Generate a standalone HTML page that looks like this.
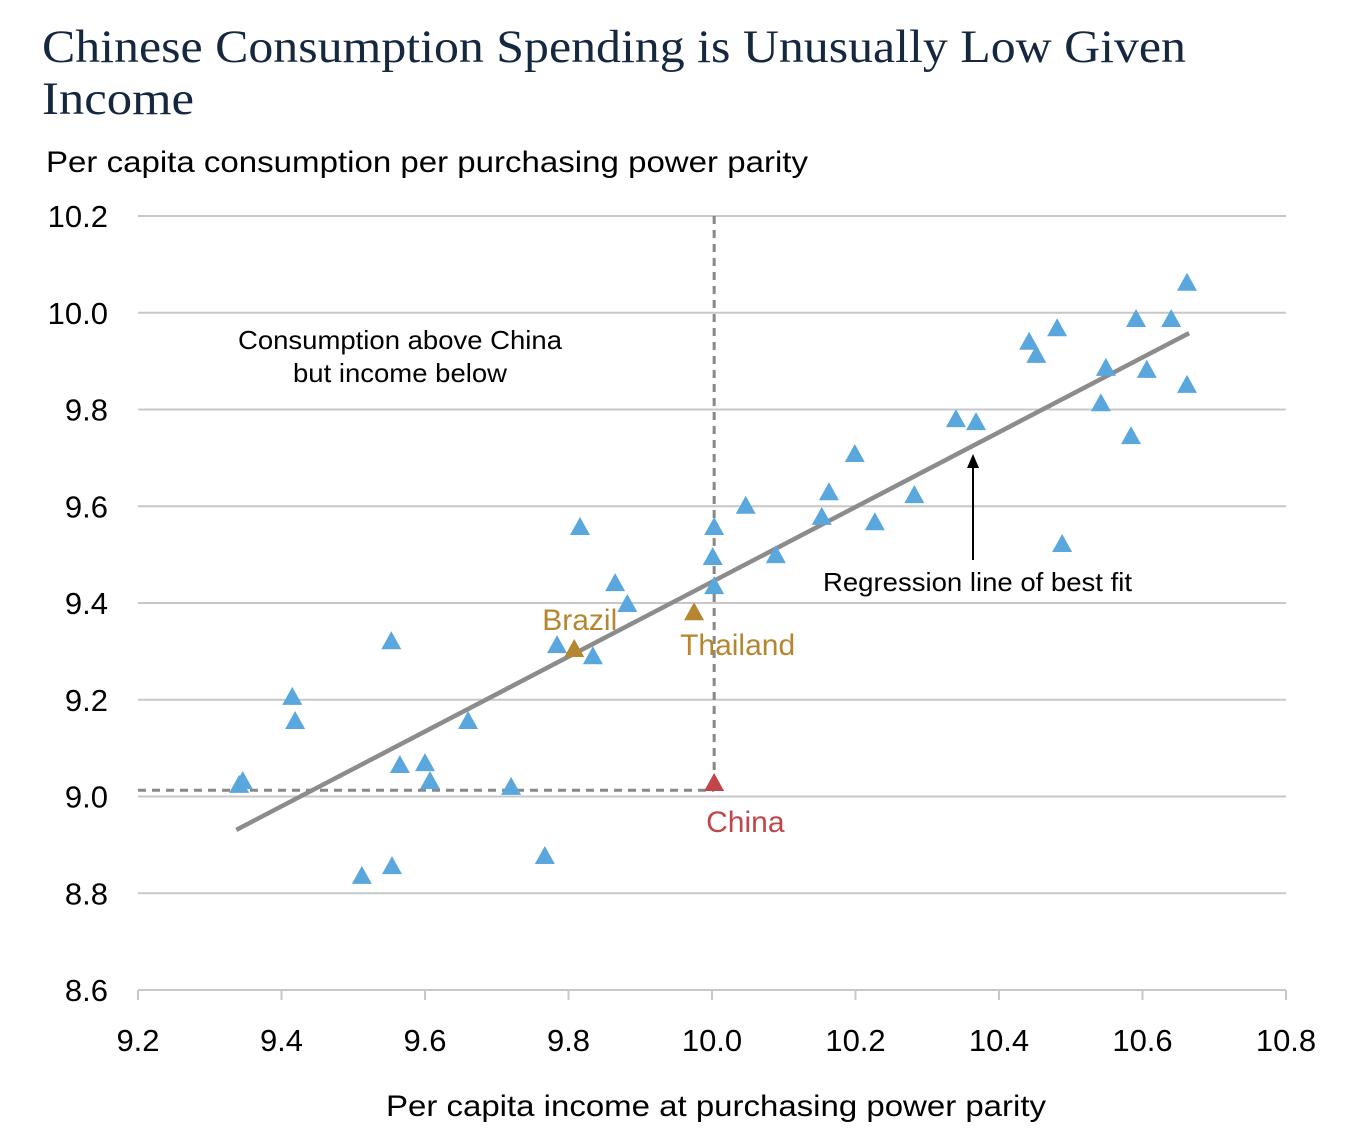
<!DOCTYPE html>
<html><head><meta charset="utf-8"><style>
html,body{margin:0;padding:0;background:#fff;}
svg{display:block;}
</style></head><body>
<svg width="1346" height="1148" viewBox="0 0 1346 1148" xmlns="http://www.w3.org/2000/svg">
<text x="42" y="62" font-family="Liberation Serif, serif" font-size="47" fill="#15283f" textLength="1144" lengthAdjust="spacingAndGlyphs">Chinese Consumption Spending is Unusually Low Given</text>
<text x="42" y="114" font-family="Liberation Serif, serif" font-size="47" fill="#15283f" textLength="152" lengthAdjust="spacingAndGlyphs">Income</text>
<text x="46" y="172" font-family="Liberation Sans, sans-serif" font-size="30" fill="#000" textLength="762" lengthAdjust="spacingAndGlyphs">Per capita consumption per purchasing power parity</text>
<text x="386" y="1116" font-family="Liberation Sans, sans-serif" font-size="30" fill="#000" textLength="660" lengthAdjust="spacingAndGlyphs">Per capita income at purchasing power parity</text>
<g id="grid"></g><g id="marks"></g>
</svg>
<script>
const xTicks=[9.2,9.4,9.6,9.8,10.0,10.2,10.4,10.6,10.8];
const yTicks=[8.6,8.8,9.0,9.2,9.4,9.6,9.8,10.0,10.2];
const countryX=[9.341,9.346,9.415,9.419,9.553,9.512,9.554,9.565,9.600,9.607,9.660,9.720,9.767,9.784,9.816,9.834,9.865,9.882,10.003,10.001,10.003,10.047,10.089,10.153,10.163,10.199,10.227,10.282,10.340,10.368,10.442,10.452,10.481,10.488,10.542,10.549,10.584,10.591,10.606,10.640,10.662,10.662];
const countryY=[9.024,9.032,9.206,9.156,9.321,8.836,8.856,9.065,9.069,9.032,9.156,9.020,8.877,9.313,9.557,9.290,9.441,9.398,9.557,9.495,9.435,9.601,9.499,9.578,9.629,9.708,9.567,9.623,9.780,9.774,9.940,9.913,9.968,9.522,9.813,9.886,9.745,9.987,9.882,9.987,10.062,9.851];
const highlightNames=["Brazil","Thailand","China"];
const highlightX=[9.808,9.975,10.003];
const highlightY=[9.305,9.381,9.028];
const chinaLevelX=10.003, chinaLevelY=9.013;
const fitX=[9.337,10.665];
const fitY=[8.931,9.958];
const NS="http://www.w3.org/2000/svg";
const X=v=>138+(v-9.2)/1.6*1148;
const Y=v=>990-(v-8.6)/1.6*774;
const grid=document.getElementById('grid'), marks=document.getElementById('marks');
function mk(p,tag,at,txt){const e=document.createElementNS(NS,tag);for(const k in at)e.setAttribute(k,at[k]);if(txt!=null)e.textContent=txt;p.appendChild(e);return e;}
yTicks.forEach((t,i)=>{
 const l=mk(grid,'line',{x1:138,x2:1286,y1:Y(t),y2:Y(t),stroke:'#c8c8c8','stroke-width':2});
 
 
 const tx=mk(grid,'text',{x:108,y:Y(t)+11,'text-anchor':'end','font-family':'Liberation Sans, sans-serif','font-size':31},t.toFixed(1));
 
 
});
const ax=mk(grid,'line',{x1:138,x2:1286,y1:990,y2:990,stroke:'#c8c8c8','stroke-width':2});


xTicks.forEach(t=>{
 const l=mk(grid,'line',{x1:X(t),x2:X(t),y1:990,y2:1000,stroke:'#c8c8c8','stroke-width':2});
 
 
 const tx=mk(grid,'text',{x:X(t),y:1051,'text-anchor':'middle','font-family':'Liberation Sans, sans-serif','font-size':31},t.toFixed(1));
 
 
});
const v=mk(marks,'line',{x1:X(chinaLevelX),x2:X(chinaLevelX),y1:Y(10.2),y2:Y(chinaLevelY),stroke:'#888','stroke-width':3,'stroke-dasharray':'8,6'});


const h=mk(marks,'line',{x1:138,x2:X(chinaLevelX),y1:Y(chinaLevelY),y2:Y(chinaLevelY),stroke:'#888','stroke-width':3,'stroke-dasharray':'8,6'});


const f=mk(marks,'line',{x1:X(fitX[0]),y1:Y(fitY[0]),x2:X(fitX[1]),y2:Y(fitY[1]),stroke:'#8c8c8c','stroke-width':4.5});


function tri(x,y,c){return mk(marks,'polygon',{points:`${x},${y-10} ${x-10},${y+8} ${x+10},${y+8}`,fill:c});}
countryX.forEach((cx,i)=>{
 const p=tri(X(cx),Y(countryY[i]),'#5aa7dd');
 
 
});
const hc=['#b5862f','#b5862f','#c0464b'];
const lp=[[-32,-19,'start'],[-14,43,'start'],[-8,49,'start']];
highlightX.forEach((hx,i)=>{
 const p=tri(X(hx),Y(highlightY[i]),hc[i]);
 
 
 const t=mk(marks,'text',{x:X(hx)+lp[i][0],y:Y(highlightY[i])+lp[i][1],'font-family':'Liberation Sans, sans-serif','font-size':30,fill:hc[i]},highlightNames[i]);
 
 
});
const a1=mk(marks,'text',{x:238,y:349,'font-family':'Liberation Sans, sans-serif','font-size':26,textLength:324,lengthAdjust:'spacingAndGlyphs'},'Consumption above China');


const a2=mk(marks,'text',{x:293,y:382,'font-family':'Liberation Sans, sans-serif','font-size':26,textLength:214,lengthAdjust:'spacingAndGlyphs'},'but income below');


const ar=mk(marks,'line',{x1:973,y1:560,x2:973,y2:462,stroke:'#000','stroke-width':2});


const ah=mk(marks,'polygon',{points:'973,454 967,468 979,468',fill:'#000'});


const a3=mk(marks,'text',{x:823,y:591,'font-family':'Liberation Sans, sans-serif','font-size':26,textLength:309,lengthAdjust:'spacingAndGlyphs'},'Regression line of best fit');


</script>
</body></html>
